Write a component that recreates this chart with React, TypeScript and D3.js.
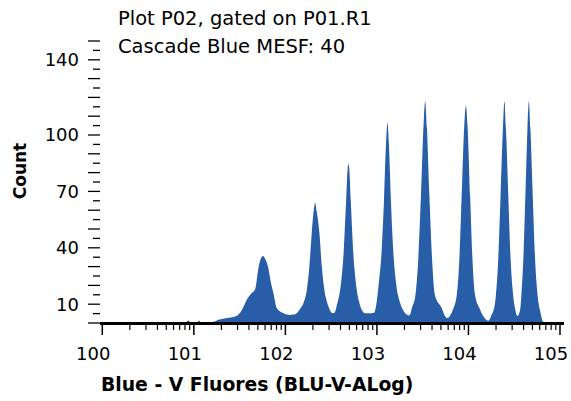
import { useEffect, useRef } from 'react';
import * as d3 from 'd3';

// channel position in decades (log10 of intensity) and event count
const CHANNELS: number[] = [
  0, 0.9, 0.94, 0.97, 1.03, 1.055, 1.08, 1.18, 1.29, 1.38, 1.46, 1.52, 1.58, 1.63, 1.67, 1.705, 1.73, 1.755, 1.78, 1.81, 1.84, 1.87, 1.905, 1.98, 2.05, 2.09,
  2.13, 2.16, 2.197, 2.234, 2.262, 2.288, 2.31, 2.325, 2.34, 2.372, 2.398, 2.426, 2.459, 2.49, 2.514, 2.54,
  2.56, 2.607, 2.638, 2.664, 2.68, 2.689, 2.698, 2.714, 2.74, 2.771, 2.81, 2.84, 2.87, 2.94,
  2.97, 2.995, 3.02, 3.052, 3.077, 3.099, 3.115, 3.131, 3.153, 3.178, 3.21, 3.255, 3.29, 3.32, 3.345, 3.365,
  3.381, 3.421, 3.45, 3.481, 3.508, 3.527, 3.546, 3.573, 3.604, 3.633, 3.709, 3.74, 3.77, 3.80,
  3.836, 3.872, 3.899, 3.926, 3.953, 3.972, 3.991, 4.018, 4.045, 4.072, 4.121, 4.17, 4.218,
  4.25, 4.285, 4.3, 4.324, 4.351, 4.377, 4.393, 4.409, 4.435, 4.462, 4.488, 4.51, 4.535,
  4.565, 4.578, 4.598, 4.622, 4.645, 4.66, 4.676, 4.702, 4.729, 4.755, 4.785, 4.813, 4.83, 5,
];
const COUNTS: number[] = [
  0, 0, 1.3, 0, 0, 1.3, 0, 0.2, 2, 2.8, 3.6, 6.5, 12.5, 15.8, 18, 29, 34, 35.6, 34, 30, 22, 15.8, 8, 5.2, 4.3, 4.5,
  5.5, 7.5, 10.5, 17.6, 30, 47.7, 60, 64, 60, 47.7, 30, 17.6, 10.5, 6.5, 5.2, 5.6,
  9, 21, 38.8, 65.4, 82, 84.6, 82, 65.4, 38.8, 21, 10.5, 6.5, 5.2, 5.2,
  5.4, 10.5, 21, 38.8, 65, 95, 106.5, 95, 65, 38.8, 21, 10.5, 6.5, 4.6, 4.0, 4.8,
  7.8, 14.9, 32.6, 68, 104, 118, 104, 68, 32.6, 14.9, 7.8, 4.0, 2.6, 4.0,
  7.8, 14.9, 32.6, 68, 104, 115.6, 104, 68, 32.6, 14.9, 7.8, 3, 1.2,
  4, 9, 14.9, 32.6, 68, 104, 118, 104, 68, 32.6, 14.9, 7.5, 3.7,
  7, 14.9, 32.6, 68, 104, 118, 104, 68, 32.6, 14.9, 6, 0.7, 0, 0,
];

const DECADES = [0, 1, 2, 3, 4, 5];
const DECADE_LABELS = ['100', '101', '102', '103', '104', '105'];
const Y_LABELS = [10, 40, 70, 100, 140];
const TITLE_LINES = ['Plot P02, gated on P01.R1', 'Cascade Blue MESF: 40'];

const W = 571, H = 401;
const FONT = '"DejaVu Sans", Verdana, sans-serif';

export default function App() {
  const svgRef = useRef<SVGSVGElement>(null);

  useEffect(() => {
    if (!svgRef.current) return;
    const svg = d3.select(svgRef.current);
    svg.selectAll('*').remove();

    const x = d3.scaleLog().domain([1, 1e5]).range([102.3, 560]);
    const y = d3.scaleLinear().domain([0, 150]).range([323, 41]);

    const data = CHANNELS.map((c, i) => ({ c, n: COUNTS[i] }));

    // histogram fill
    const area = d3.area<{ c: number; n: number }>()
      .x(d => x(Math.pow(10, d.c)))
      .y0(y(0)).y1(d => y(d.n))
      .curve(d3.curveMonotoneX);
    svg.append('path').datum(data).attr('d', area).attr('fill', '#285ea8');

    // y ticks every 5, long every 10
    d3.range(0, 151, 5).forEach(v => {
      const long = v % 10 === 0;
      svg.append('line')
        .attr('x1', long ? 88 : 93).attr('x2', 100)
        .attr('y1', y(v)).attr('y2', y(v))
        .attr('stroke', '#000').attr('stroke-width', 1.3);
    });
    Y_LABELS.forEach(v => {
      svg.append('text')
        .attr('x', 79).attr('y', y(v)).attr('dy', '0.36em')
        .attr('text-anchor', 'end').attr('font-size', 18).attr('font-family', FONT)
        .text(v);
    });

    // x axis
    svg.append('line')
      .attr('x1', 100).attr('x2', 564).attr('y1', 323.5).attr('y2', 323.5)
      .attr('stroke', '#000').attr('stroke-width', 3);
    x.ticks().forEach(t => {
      const major = Math.abs(Math.log10(t) - Math.round(Math.log10(t))) < 1e-9;
      svg.append('line')
        .attr('x1', x(t)).attr('x2', x(t))
        .attr('y1', 325).attr('y2', major ? 335 : 330)
        .attr('stroke', '#000').attr('stroke-width', major ? 1.5 : 1.2);
    });
    // labels sit a little left of their tick
    DECADES.forEach((d, i) => {
      svg.append('text')
        .attr('x', x(Math.pow(10, d)) - 9).attr('y', 360)
        .attr('text-anchor', 'middle').attr('font-size', 18).attr('font-family', FONT)
        .text(DECADE_LABELS[i]);
    });

    // axis titles
    svg.append('text')
      .attr('x', 101).attr('y', 391)
      .attr('font-size', 18.8).attr('font-weight', 'bold').attr('font-family', FONT)
      .text('Blue - V Fluores (BLU-V-ALog)');
    svg.append('text')
      .attr('transform', 'translate(26,171) rotate(-90)')
      .attr('text-anchor', 'middle')
      .attr('font-size', 17).attr('font-weight', 'bold').attr('font-family', FONT)
      .text('Count');

    TITLE_LINES.forEach((t, i) => {
      svg.append('text')
        .attr('x', 118).attr('y', 25 + i * 28)
        .attr('font-size', 19.5).attr('font-family', FONT)
        .text(t);
    });
  }, []);

  return (
    <svg ref={svgRef} width={W} height={H}
      style={{ position: 'absolute', left: 0, top: 0, background: '#fff' }} />
  );
}
